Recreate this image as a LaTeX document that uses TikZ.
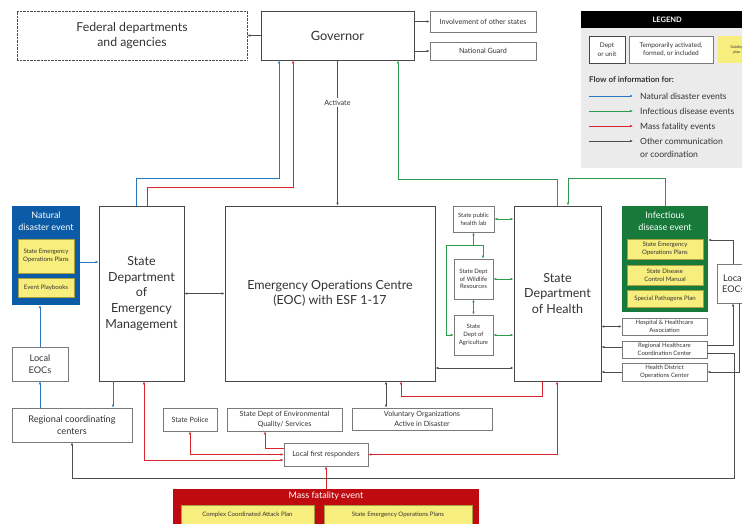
\documentclass[tikz,border=0pt]{standalone}
\usepackage{fontspec}
\setmainfont{Lato}
\usetikzlibrary{positioning, calc, arrows.meta}

\definecolor{txt}{HTML}{333333}
\definecolor{unitline}{HTML}{474747}
\definecolor{deptline}{HTML}{7A7A7A}
\definecolor{ndline}{HTML}{2A77C0}
\definecolor{idline}{HTML}{2F9950}
\definecolor{mfline}{HTML}{D8262C}
\definecolor{otline}{HTML}{4D4D4D}
\definecolor{ndfill}{HTML}{0B5BA7}
\definecolor{idfill}{HTML}{177A3B}
\definecolor{mffill}{HTML}{BF0A10}
\definecolor{planyel}{HTML}{F8EE7D}
\definecolor{planline}{HTML}{A89F3E}
\definecolor{legbg}{HTML}{EBEBEB}

\begin{document}
\begin{tikzpicture}[x=1pt, y=-1pt,
	>={Latex[length=3pt, width=2.6pt]},
	every node/.style={text=txt, align=center, inner sep=0pt},
	unit/.style={draw=unitline, line width=0.9pt, fill=white},
	dept/.style={draw=deptline, line width=0.7pt, fill=white},
	plan/.style={draw=planline, line width=0.4pt, fill=planyel, font=\fontsize{6.1}{8}\selectfont},
	evtitle/.style={text=white, font=\fontsize{9}{11.5}\selectfont},
	fbig/.style={font=\fontsize{12.5}{15.6}\selectfont},
	fmid/.style={font=\fontsize{9.2}{11.5}\selectfont},
	fsmall/.style={font=\fontsize{7.2}{9.6}\selectfont},
	ftiny/.style={font=\fontsize{6}{7.8}\selectfont},
	ndis/.style={draw=ndline, line width=0.8pt},
	idis/.style={draw=idline, line width=0.8pt},
	mfat/.style={draw=mfline, line width=0.8pt},
	other/.style={draw=otline, line width=0.7pt}]
\useasboundingbox (0,0) rectangle (742,523);
\clip (0,0) rectangle (742,523);

% top row
\node[draw=otline, dash pattern=on 0.8pt off 0.6pt, line width=0.7pt, minimum width=230pt, minimum height=49pt, font=\fontsize{12.3}{15}\selectfont] (fed) at (132,35.5) {Federal departments\\and agencies};
\node[unit, minimum width=153pt, minimum height=49pt, font=\fontsize{12.8}{15}\selectfont] (gov) at (337.5,35.5) {Governor};
\node[dept, fsmall, minimum width=106pt, minimum height=21pt] (others) at (483,21.5) {Involvement of other states};
\node[dept, fsmall, minimum width=106pt, minimum height=18pt] (guard) at (483,51) {National Guard};

% legend
\node[fill=legbg, minimum width=172pt, minimum height=157pt, anchor=north west] (legend) at (581,11) {};
\node[fill=black, text=white, minimum width=172pt, minimum height=17pt, anchor=north west, font=\bfseries\fontsize{7.5}{9}\selectfont] (leghead) at (581,11) {LEGEND};
\node[unit, line width=0.7pt, font=\fontsize{6.5}{8.8}\selectfont, minimum width=36pt, minimum height=27pt] (legdept) at (607,49.5) {Dept\\or unit};
\node[dept, font=\fontsize{6.5}{8.8}\selectfont, minimum width=84pt, minimum height=27pt] (legtemp) at (671,49.5) {Temporarily activated,\\formed, or included};
\node[fill=planyel, font=\fontsize{3.8}{5}\selectfont, minimum width=38pt, minimum height=27pt] (legplan) at (737,49.5) {Guiding\\plan};
\node[anchor=west, font=\bfseries\fontsize{8}{10}\selectfont] (legflow) at (589,80) {Flow of information for:};
\foreach \s/\y/\b/\t [count=\i] in {ndis/96/99/Natural disaster events, idis/111/114/Infectious disease events, mfat/126/129/Mass fatality events, other/141/157/{Other communication\\or coordination}} {
	\node[anchor=base west, align=left, font=\fontsize{8.6}{13}\selectfont] (legt\i) at (640,\b) {\t};
	\coordinate (legs\i) at (589,\y);
	\draw[\s, ->] (legs\i) -- ++(44,0);
}

% natural disaster side
\node[fill=ndfill, minimum width=68pt, minimum height=99pt] (ndev) at (46,255.5) {};
\node[evtitle] (ndtitle) at (46,221) {Natural\\disaster event};
\foreach \n/\y/\h/\t in {ndp1/256/34/{State Emergency\\Operations Plans}, ndp2/287.5/19/Event Playbooks}
	\node[plan, minimum width=56pt, minimum height=\h pt] (\n) at (46,\y) {\t};
\node[dept, fmid, minimum width=56pt, minimum height=34pt] (eocl) at (40,364) {Local\\EOCs};
\node[dept, fmid, minimum width=120pt, minimum height=34pt] (reg) at (72,425) {Regional coordinating\\centers};

% main units
\node[unit, fbig, minimum width=85pt, minimum height=175pt] (sdem) at (141.5,293.5) {State\\Department\\of\\Emergency\\Management};
\node[unit, fbig, minimum width=210pt, minimum height=175pt] (eoc) at (330,293.5) {Emergency Operations Centre\\(EOC) with ESF 1-17};
\node[unit, fbig, minimum width=87pt, minimum height=175pt] (health) at (557.5,293.5) {State\\Department\\of Health};

% health side
\node[dept, ftiny, minimum width=41pt, minimum height=26pt] (lab) at (473.5,219) {State public\\health lab};
\node[dept, ftiny, minimum width=39pt, minimum height=40pt] (wild) at (473.5,279) {State Dept\\of Wildlife\\Resources};
\node[dept, ftiny, minimum width=39pt, minimum height=40pt] (agri) at (473.5,335) {State\\Dept of\\Agriculture};
\node[fill=idfill, minimum width=86pt, minimum height=106pt] (idev) at (665,259) {};
\node[evtitle] (idtitle) at (665,221) {Infectious\\disease event};
\foreach \n/\y/\h/\t in {idp1/249/20/{State Emergency\\Operations Plans}, idp2/275/20/{State Disease\\Control Manual}, idp3/298.5/17/Special Pathogens Plan}
	\node[plan, minimum width=76pt, minimum height=\h pt] (\n) at (665,\y) {\t};
\foreach \n/\y/\h/\t in {hosp/326.5/17/{Hospital \& Healthcare\\Association}, rhcc/349.5/17/{Regional Healthcare\\Coordination Center}, hdoc/372/18/{Health District\\Operations Center}}
	\node[dept, ftiny, minimum width=85pt, minimum height=\h pt] (\n) at (664.5,\y) {\t};
\node[dept, fmid, minimum width=33pt, minimum height=39pt] (eocr) at (733.5,283.5) {Local\\EOCs};

% lower row
\node[dept, fsmall, minimum width=54pt, minimum height=23pt] (police) at (190,419.5) {State Police};
\node[dept, fsmall, minimum width=115pt, minimum height=23pt] (env) at (284.5,419.5) {State Dept of Environmental\\Quality/ Services};
\node[dept, fsmall, minimum width=140pt, minimum height=22pt] (voad) at (422,419) {Voluntary Organizations\\Active in Disaster};
\node[dept, fsmall, minimum width=84pt, minimum height=23pt] (lfr) at (326,454.5) {Local first responders};
\node[fill=mffill, minimum width=306pt, minimum height=50pt] (mfev) at (326,514) {};
\node[evtitle] (mftitle) at (326,496) {Mass fatality event};
\foreach \n/\x/\w/\t in {mfp1/247.5/133/Complex Coordinated Attack Plan, mfp2/398/148/State Emergency Operations Plans}
	\node[plan, minimum width=\w pt, minimum height=19pt] (\n) at (\x,514.5) {\t};

% governor links
\draw[other, ->] (gov.west) -- (fed.east);
\draw[other, ->] (gov.east |- others) -- (others.west);
\draw[other, ->] (gov.east |- guard) -- (guard.west);
\draw[other, ->] (gov.south) -- node[pos=0.29, fill=white, inner ysep=2pt, fsmall] (act) {Activate} (gov.south |- eoc.north);
\draw[ndis, ->] ([xshift=-5.5pt]sdem.north) -- ++(0,-27) -| ([xshift=-58.5pt]gov.south);
\draw[mfat, ->] ([xshift=5.5pt]sdem.north) -- ++(0,-18) -| ([xshift=-44.5pt]gov.south);
\draw[idis, ->] (health.north) -- ++(0,-26) -| ([xshift=60.5pt]gov.south);
\draw[idis, ->] (idev.north) -- ++(0,-27) -| ([xshift=10.5pt]health.north);

% emergency management links
\draw[ndis, ->] ([yshift=-6.5pt]ndev.east) -- ([yshift=-6.5pt]ndev.east -| sdem.west);
\draw[other, <->] (sdem.east) -- (eoc.west);
\draw[ndis, ->] (eocl.north) -- (eocl.north |- ndev.south);
\draw[ndis, ->] (reg.north -| eocl.south) -- (eocl.south);
\draw[ndis, ->] ([xshift=-28.5pt]sdem.south) -- ([xshift=-28.5pt]sdem.south |- reg.north);
\draw[mfat, <->] ([xshift=2.5pt]sdem.south) |- ([yshift=-5.5pt]lfr.west);
\draw[mfat, <->] (police.south) |- (lfr.west);
\draw[mfat, ->] ([yshift=6.5pt]lfr.west) -| ([xshift=-19.5pt]env.south);
\draw[mfat, ->] (mfev.north) -- (lfr.south);
\draw[mfat, ->] ([xshift=-15.5pt]health.south) -- ++(0,15) -| ([xshift=71pt]eoc.south);
\draw[mfat, <->] (lfr.east) -| ([xshift=-0.5pt]health.south);
\draw[other, <->] ([xshift=56pt]eoc.south) -- ([xshift=56pt]eoc.south |- voad.north);
\draw[other, <->] ([yshift=-74.5pt]health.west) -- ([yshift=-74.5pt]health.west -| eoc.east);

% health links
\foreach \n in {lab, wild, agri}
	\draw[idis, <->] (\n.east) -- (\n.east -| health.west);
\draw[idis, <->] (wild.south) -- (agri.north);
\draw[idis, <->] (lab.south) -- ++(0,13) -| ([xshift=9.5pt]wild.north);
\draw[idis, ->] (lab.south) ++(0,13) -- ++(-27,0) |- (agri.west);
\draw[other, <->] (hosp.west) -- (hosp.west -| health.east);
\draw[other, ->] ([yshift=2.5pt]rhcc.west) -- ([yshift=2.5pt]rhcc.west -| health.east);
\draw[other, ->] (hdoc.west) -- (hdoc.west -| health.east);
\draw[other, ->] ([xshift=-0.5pt]eocr.north) |- ([yshift=19pt]idev.east);
\draw[other, ->] ([yshift=4.5pt]rhcc.east) -| ([xshift=-0.5pt]eocr.south);
\draw[other, ->] ([xshift=5.5pt]eocr.south) |- (hdoc.east);
\draw[other, ->] ([yshift=-3.5pt]rhcc.east) -- ++(26.5,0) -- ++(0,125) -| (reg.south);
\end{tikzpicture}
\end{document}
